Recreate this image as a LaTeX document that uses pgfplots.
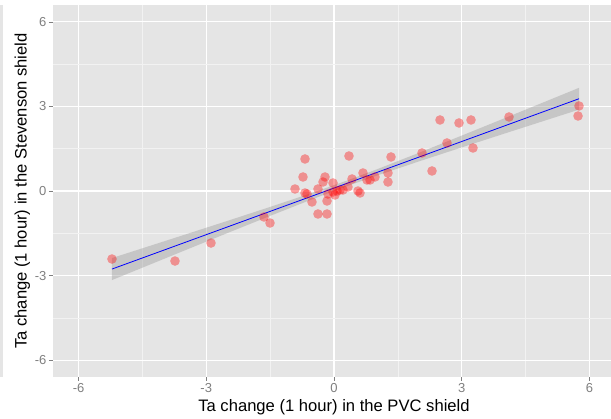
\documentclass[border=0pt]{standalone}
\usepackage{pgfplots}
\pgfplotsset{compat=1.18}
\usepackage{fontspec}
\setmainfont{Liberation Sans}
\definecolor{panelbg}{HTML}{E5E5E5}
\definecolor{minorgrid}{HTML}{F2F2F2}
\definecolor{ticklab}{HTML}{7F7F7F}
\definecolor{bandc}{HTML}{999999}
\begin{document}
\begin{tikzpicture}[x=1pt,y=1pt]
\path[use as bounding box] (0,0) rectangle (611,419);
\clip (0,0) rectangle (611,419);
\fill[panelbg] (0,42) rectangle (3,414);
\begin{axis}[
  at={(53pt,42pt)}, anchor=south west,
  scale only axis, width=562pt, height=372pt,
  xmin=-6.6, xmax=6.6, ymin=-6.6, ymax=6.6,
  axis background/.style={fill=panelbg},
  axis line style={draw=none},
  xtick={-6,-3,0,3,6}, ytick={-6,-3,0,3,6},
  xticklabels={-6,-3,0,3,6}, yticklabels={-6,-3,0,3,6},
  minor xtick={-4.5,-1.5,1.5,4.5}, minor ytick={-4.5,-1.5,1.5,4.5},
  grid=both,
  major grid style={white, line width=1.1pt},
  minor grid style={minorgrid, line width=0.5pt},
  tick style={ticklab, line width=0.6pt},
  major tick length=4pt, minor tick length=0pt,
  tick align=outside,
  xtick pos=bottom, ytick pos=left,
  ticklabel style={font=\fontsize{13}{13}\selectfont, text=ticklab},
  xticklabel style={yshift=1pt},
  yticklabel style={xshift=1pt},
  xlabel={Ta change (1 hour) in the PVC shield},
  ylabel={Ta change (1 hour) in the Stevenson shield},
  label style={font=\fontsize{16.6}{16.6}\selectfont},
  xlabel style={yshift=0pt},
  ylabel style={yshift=-2pt},
]
\addplot[only marks, mark=*, mark size=4.8pt, draw=none, mark options={draw=red, draw opacity=0, fill=red, fill opacity=0.37}] coordinates {
(-5.215,-2.414) (-3.735,-2.485) (-2.889,-1.846) (-1.644,-0.923) (-1.503,-1.136)
(-0.681,1.136) (-0.728,0.497) (-0.916,0.071) (-0.681,-0.071) (-0.634,-0.107)
(-0.517,-0.390) (-0.376,-0.816) (-0.164,-0.816) (-0.211,0.497) (-0.258,0.319)
(-0.023,0.284) (-0.376,0.071) (-0.164,-0.355) (-0.141,-0.107) (-0.023,-0.035)
(0.070,0.0) (0.141,0.035) (0.023,-0.142) (0.211,0.035) (0.352,1.242)
(0.423,0.426) (0.329,0.142) (0.564,0.0) (0.611,-0.071) (0.681,0.639)
(0.775,0.390) (0.846,0.390) (0.963,0.497) (1.268,0.319) (1.339,1.207)
(1.268,0.639) (2.067,1.349) (2.302,0.710) (2.654,1.704) (2.490,2.520)
(2.936,2.414) (3.218,2.520) (3.265,1.526) (4.111,2.627) (5.755,3.017)
(5.732,2.662)
};
\addplot[draw=none, fill=bandc, fill opacity=0.4] coordinates {
(-5.215,-2.379) (-4.5,-2.033) (-3.5,-1.547) (-2.5,-1.059) (-1.5,-0.565)
(-0.5,-0.059) (0.3,0.368) (1,0.765) (2,1.358) (3,1.966) (4,2.579) (5,3.195) (5.755,3.661)
(5.755,2.887) (5,2.521) (4,2.035) (3,1.546) (2,1.052) (1,0.543) (0.3,0.168)
(-0.5,-0.287) (-1.5,-0.883) (-2.5,-1.491) (-3.5,-2.105) (-4.5,-2.721) (-5.215,-3.161)
} -- cycle;
\addplot[blue, line width=0.8pt] coordinates {(-5.215,-2.770) (5.755,3.274)};
\end{axis}
\end{tikzpicture}
\end{document}
